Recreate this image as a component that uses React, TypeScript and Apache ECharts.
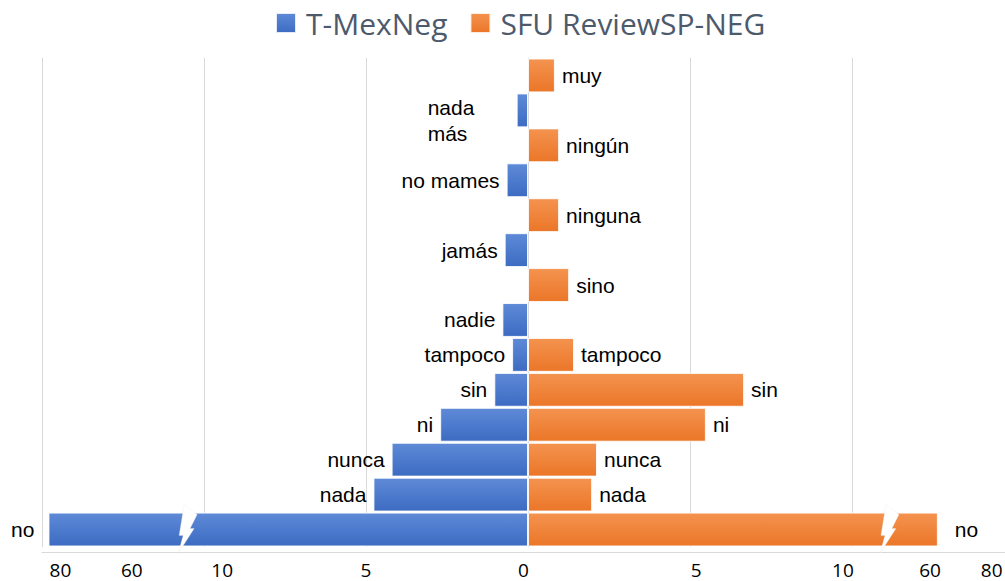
import React, { useEffect, useRef } from 'react';
import * as echarts from 'echarts';

// Categories from top to bottom
const categories = ['muy', 'nada más', 'ningún', 'no mames', 'ninguna', 'jamás', 'sino', 'nadie', 'tampoco', 'sin', 'ni', 'nunca', 'nada', 'no'];
// T-MexNeg (drawn to the left)
const tmexneg = [null, 0.35, null, 0.66, null, 0.72, null, 0.79, 0.49, 1.04, 2.71, 4.21, 4.77, 84];
// SFU ReviewSP-NEG (drawn to the right)
const sfu = [0.83, null, 0.96, null, 0.96, null, 1.27, null, 1.42, 6.67, 5.49, 2.13, 1.98, 62.5];

// Custom (broken-axis) tick labels and their positions on the drawing axis
const tickLabels = ['80', '60', '10', '5', '0', '5', '10', '60', '80'];
const tickPositions = [-14.43, -12.23, -9.44, -5.0, -0.14, 5.19, 9.72, 12.41, 14.31];

// Broken axis: real value -> drawing-axis value
const realKnots = [0, 10, 60, 80, 100];
const axisKnots = [0, 10, 12.4, 14.4, 16.4];
// where the break marks sit (drawing-axis units)
const breakAt = [-10.52, 11.14];

function toAxis(v: number | null): number | null {
  if (v === null) return null;
  const s = v < 0 ? -1 : 1;
  const a = Math.abs(v);
  for (let i = 1; i < realKnots.length; i++) {
    if (a <= realKnots[i]) {
      const t = (a - realKnots[i - 1]) / (realKnots[i] - realKnots[i - 1]);
      return s * (axisKnots[i - 1] + t * (axisKnots[i] - axisKnots[i - 1]));
    }
  }
  return s * axisKnots[axisKnots.length - 1];
}

const LABEL_FONT = '"Liberation Sans", Arial, sans-serif';

export default function App() {
  const ref = useRef<HTMLDivElement>(null);
  useEffect(() => {
    if (!ref.current) return;
    const chart = echarts.init(ref.current, undefined, { renderer: 'svg' });

    const blueGrad = new echarts.graphic.LinearGradient(0, 0, 0, 1, [
      { offset: 0, color: '#5e8ad7' },
      { offset: 1, color: '#3c6bc2' },
    ]);
    const orangeGrad = new echarts.graphic.LinearGradient(0, 0, 0, 1, [
      { offset: 0, color: '#f4934f' },
      { offset: 1, color: '#eb7628' },
    ]);

    const blueData = tmexneg.map((v, i) => {
      if (v === null) return { value: null };
      const item: any = { value: -(toAxis(v) as number) };
      if (categories[i] === 'nada más') {
        item.label = { align: 'left', offset: [-82, 10], lineHeight: 26 };
      }
      if (categories[i] === 'no') {
        item.label = { distance: 14 };
      }
      return item;
    });
    const orangeData = sfu.map((v, i) => {
      if (v === null) return { value: null };
      const item: any = { value: toAxis(v) };
      if (categories[i] === 'no') item.label = { distance: 17 };
      return item;
    });

    const bolt = [
      [-3, -25], [10, -15], [3, -1], [7, -1], [-9, 24], [-4, 6], [-8, 6],
    ];

    chart.setOption({
      animation: false,
      legend: {
        data: ['T-MexNeg', 'SFU ReviewSP-NEG'],
        left: 275,
        top: 8,
        padding: 0,
        itemWidth: 20,
        itemHeight: 20,
        itemGap: 22,
        icon: 'rect',
        textStyle: { fontSize: 30, color: '#4d5a6c', fontFamily: '"Open Sans", sans-serif', padding: [0, 0, 0, 5] },
      },
      grid: { left: 42, width: 972, top: 58, height: 489, containLabel: false, outerBoundsMode: 'none' },
      xAxis: [
        {
          type: 'value',
          min: -15,
          max: 15,
          interval: 5,
          axisLine: { show: false },
          axisTick: { show: false },
          axisLabel: { show: false },
          splitLine: { show: true, lineStyle: { color: '#d9d9d9', width: 1 } },
        },
        {
          type: 'value',
          min: -15,
          max: 15,
          position: 'bottom',
          offset: 5,
          axisLine: { show: true, lineStyle: { color: '#d9d9d9', width: 1 } },
          axisTick: { show: false },
          splitLine: { show: false },
          axisLabel: {
            customValues: tickPositions,
            margin: 8,
            fontSize: 19,
            color: '#000',
            fontFamily: '"Open Sans", sans-serif',
            formatter: (v: number) => {
              const i = tickPositions.findIndex((p) => Math.abs(p - v) < 1e-6);
              return i >= 0 ? tickLabels[i] : '';
            },
          },
        },
      ],
      yAxis: {
        type: 'category',
        data: categories,
        inverse: true,
        axisLine: { show: false },
        axisTick: { show: false },
        axisLabel: { show: false },
        splitLine: { show: false },
      },
      series: [
        {
          name: 'T-MexNeg',
          type: 'bar',
          xAxisIndex: 0,
          data: blueData,
          barGap: '-100%',
          barCategoryGap: '3%',
          itemStyle: { color: blueGrad, borderColor: 'rgba(255,255,255,0.85)', borderWidth: 1 },
          label: {
            show: true,
            position: 'left',
            distance: 7,
            fontSize: 21,
            color: '#000',
            fontFamily: LABEL_FONT,
            formatter: (p: any) => (p.name === 'nada más' ? 'nada\nmás' : p.name),
          },
        },
        {
          name: 'SFU ReviewSP-NEG',
          type: 'bar',
          xAxisIndex: 0,
          data: orangeData,
          barGap: '-100%',
          barCategoryGap: '3%',
          itemStyle: { color: orangeGrad, borderColor: 'rgba(255,255,255,0.85)', borderWidth: 1 },
          label: {
            show: true,
            position: 'right',
            distance: 7,
            fontSize: 21,
            color: '#000',
            fontFamily: LABEL_FONT,
            formatter: (p: any) => p.name,
          },
        },
        {
          name: 'breaks',
          type: 'custom',
          xAxisIndex: 0,
          z: 10,
          silent: true,
          encode: { x: 0, y: 1 },
          data: breakAt.map((b) => [b, 'no']),
          renderItem: (params: any, api: any) => {
            const c = api.coord([api.value(0), api.value(1)]);
            return {
              type: 'polygon',
              shape: { points: bolt.map(([dx, dy]) => [c[0] + dx, c[1] + dy]) },
              style: { fill: '#ffffff', stroke: 'rgba(230,230,230,0.6)', lineWidth: 0.5 },
            };
          },
        },
      ],
    });
    return () => chart.dispose();
  }, []);
  return (
    <div
      ref={ref}
      style={{ position: 'fixed', left: 0, top: 0, width: 1005, height: 581, background: '#fff' }}
    />
  );
}
